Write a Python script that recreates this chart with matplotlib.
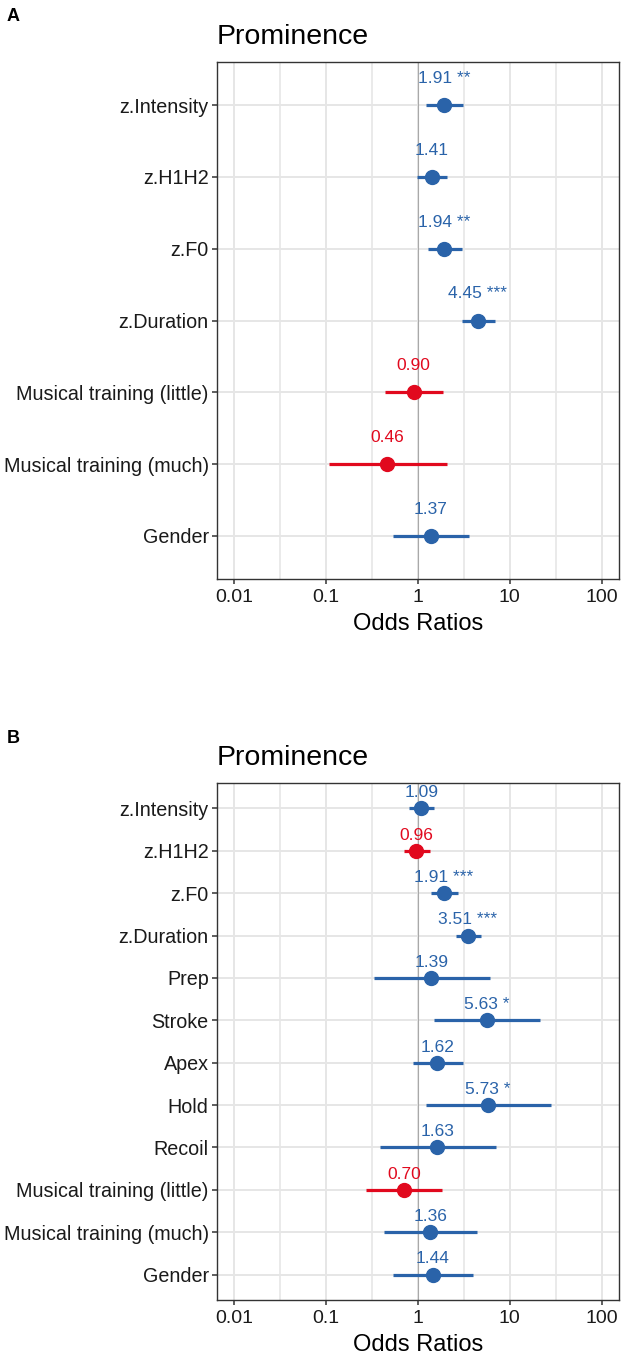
import numpy as np
import matplotlib
matplotlib.use("Agg")
import matplotlib.pyplot as plt

plt.rcParams['font.family'] = ['Liberation Sans', 'DejaVu Sans']

# panel A
terms_a = ["z.Intensity", "z.H1H2", "z.F0", "z.Duration",
           "Musical training (little)", "Musical training (much)", "Gender"]
est_a = [1.91, 1.41, 1.94, 4.45, 0.90, 0.46, 1.37]
lo_a = [1.21, 0.97, 1.28, 2.99, 0.44, 0.108, 0.53]
hi_a = [3.07, 2.09, 3.04, 6.86, 1.86, 2.05, 3.6]
stars_a = ["**", "", "**", "***", "", "", ""]

# panel B
terms_b = ["z.Intensity", "z.H1H2", "z.F0", "z.Duration", "Prep", "Stroke",
           "Apex", "Hold", "Recoil", "Musical training (little)",
           "Musical training (much)", "Gender"]
est_b = [1.09, 0.96, 1.91, 3.51, 1.39, 5.63, 1.62, 5.73, 1.63, 0.70, 1.36, 1.44]
lo_b = [0.80, 0.70, 1.39, 2.57, 0.33, 1.51, 0.875, 1.21, 0.385, 0.27, 0.43, 0.53]
hi_b = [1.51, 1.35, 2.71, 4.86, 6.1, 21.6, 3.07, 28.0, 7.1, 1.84, 4.37, 4.0]
stars_b = ["", "", "***", "***", "", "*", "", "*", "", "", "", ""]

x_ticks = [0.01, 0.1, 1, 10, 100]
x_ticklabels = ["0.01", "0.1", "1", "10", "100"]

BLUE = "#2a63a9"
RED = "#e1091e"
GRID = "#e6e6e6"
W, H = 624, 1359


def forest(ax, terms, est, lo, hi, stars):
    n = len(terms)
    y = np.arange(n)
    ax.set_xscale('log')
    ax.set_xlim(10 ** -2.19, 10 ** 2.19)
    ax.set_ylim(n - 1 + 0.6, -0.6)

    # grid by hand (ggplot theme_bw look)
    for v in x_ticks:
        ax.axvline(v, color=GRID, lw=1.4, zorder=0)
    for v in [10 ** -1.5, 10 ** -0.5, 10 ** 0.5, 10 ** 1.5]:
        ax.axvline(v, color=GRID, lw=1.2, zorder=0)
    for yy in y:
        ax.axhline(yy, color=GRID, lw=1.4, zorder=0)
    ax.axvline(1, color="#a9a9a9", lw=0.8, zorder=1)

    for i in range(n):
        col = RED if est[i] < 1 else BLUE
        ax.plot([lo[i], hi[i]], [y[i], y[i]], color=col, lw=2.3,
                solid_capstyle='butt', zorder=2)
        ax.plot(est[i], y[i], 'o', color=col, ms=10, zorder=3)
        lab = f"{est[i]:.2f}" + (" " + stars[i] if stars[i] else "")
        ax.text(est[i], y[i] - 0.37, lab, color=col, fontsize=12.5,
                ha='center', va='center', zorder=4)

    ax.set_yticks(y)
    ax.set_yticklabels(terms, fontsize=14.2, color="#1a1a1a")
    ax.set_xticks(x_ticks)
    ax.set_xticklabels(x_ticklabels, fontsize=14, color="#1a1a1a")
    ax.xaxis.set_minor_locator(matplotlib.ticker.NullLocator())
    ax.tick_params(axis='both', length=3.5, width=1.1, color="#333333", pad=2.5)
    ax.tick_params(axis='x', pad=4)
    ax.set_xlabel("Odds Ratios", fontsize=17, labelpad=5)
    ax.set_title("Prominence", loc='left', fontsize=20.5, pad=13)
    for s in ax.spines.values():
        s.set_color("#333333")
        s.set_linewidth(1.0)


fig = plt.figure(figsize=(W / 100, H / 100), dpi=100)
left = 217 / W
width = 402 / W
ax_a = fig.add_axes([left, 1 - 579 / H, width, 517 / H])
ax_b = fig.add_axes([left, 1 - 1300 / H, width, 517 / H])

forest(ax_a, terms_a, est_a, lo_a, hi_a, stars_a)
forest(ax_b, terms_b, est_b, lo_b, hi_b, stars_b)

fig.text(7 / W, 1 - 21 / H, "A", fontsize=13, fontweight='bold')
fig.text(7 / W, 1 - 743 / H, "B", fontsize=13, fontweight='bold')

fig.savefig("out.png", dpi=100, facecolor="white")
